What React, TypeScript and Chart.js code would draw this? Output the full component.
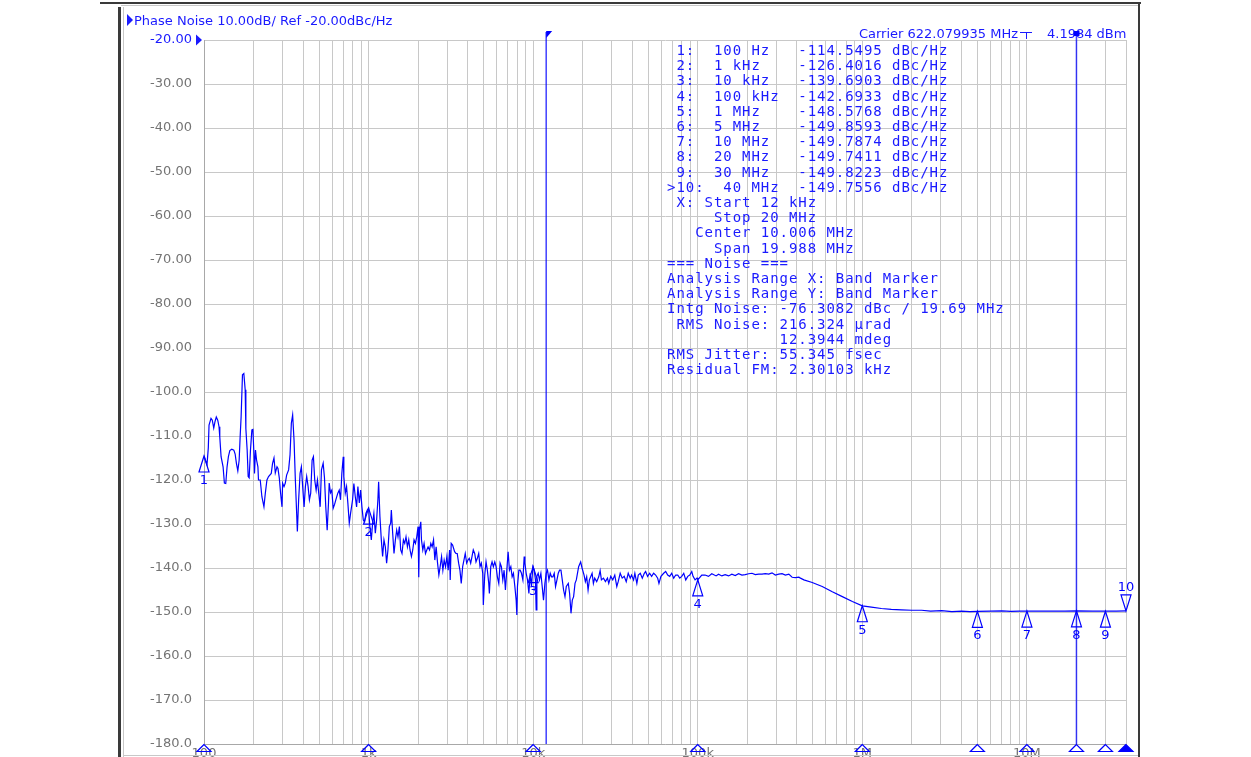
import React, { useEffect, useRef } from "react";
import { Chart, registerables } from "chart.js";
Chart.register(...registerables);

// ---- trace data (offset frequency in Hz, phase noise in dBc/Hz) ----
const freqHz = [
  100, 104.3, 106.2, 107.3, 110.3, 112.3, 114.6, 116.7, 118.8, 121.2, 123.4, 124.7, 127, 130.6, 133, 135.6, 138.1, 140.7, 143.5, 147.5,
  151.8, 154.6, 157.4, 160.5, 163.5, 165.8, 168.1, 171.3, 174.6, 177.9, 179.6, 182.9, 185.5, 188.1, 191.6, 195.4, 198.2, 201, 202.7, 205.5,
  208.5, 212.6, 214.3, 219.6, 224.8, 231.3, 235.5, 241.2, 246.7, 256.3, 261, 266.2, 271.1, 277.6, 281.5, 286.7, 292, 297.8, 300.3, 306.3,
  311.9, 317.7, 326.7, 333.2, 339.4, 345.6, 352.5, 359, 365.6, 369.2, 375.9, 383.5, 390.5, 397.7, 405.6, 413.1, 420.7, 429.1, 437, 445,
  453.8, 462.2, 470.8, 480.1, 488.9, 497.9, 507.9, 517.2, 529.7, 539.5, 549.4, 560.3, 570.7, 576.3, 586.9, 597.7, 609.6, 620.8, 632.3, 650.2,
  663.2, 675.4, 687.9, 701.5, 707.3, 721.5, 734.8, 748.2, 763.2, 777.3, 799.4, 814, 830.3, 845.6, 861.1, 878.3, 894.5, 910.9, 928.7, 945.8,
  963.2, 982.3, 1000,
  1018, 1039, 1058, 1077, 1099, 1119, 1139, 1151, 1172, 1195, 1217, 1240, 1264, 1287, 1311, 1337, 1362, 1375, 1401, 1427,
  1455, 1482, 1509, 1539, 1567, 1596, 1628, 1658, 1688, 1722, 1754, 1786, 1821, 1855, 1889, 1927, 1962, 1998, 2018, 2038,
  2076, 2096, 2135, 2174, 2217, 2258, 2299, 2346, 2389, 2433, 2481, 2527, 2573, 2625, 2673, 2722, 2776, 2827, 2879, 2936,
  2991, 3045, 3106, 3133, 3177, 3240, 3332, 3394, 3456, 3525, 3590, 3656, 3729, 3797, 3867, 3944, 4017, 4091, 4172, 4249,
  4326, 4413, 4494, 4577, 4668, 4754, 4842, 4938, 4979, 5079, 5172, 5268, 5372, 5418, 5525, 5627, 5729, 5845, 5952, 6061,
  6182, 6296, 6412, 6540, 6660, 6783, 6916, 7045, 7175, 7317, 7452, 7588, 7740, 7883, 7959, 8027, 8187, 8338, 8492, 8660,
  8820, 8907, 9071, 9237, 9419, 9592, 9769, 9958,
  10141, 10328, 10430, 10533, 10727, 10924, 11140, 11347, 11555, 11784, 12002, 12221, 12466, 12696, 12928, 13187, 13430, 13677, 13949, 14206,
  14467, 14753, 15027, 15304, 15607, 15895, 16348, 16649, 16977, 17293, 17612, 17961, 18292, 18893, 19431, 19819, 20383, 20758, 21143, 21560,
  21957, 22361, 22806, 23226, 23653, 24325, 25021, 25516, 25987, 26729, 27490, 28273, 28793, 29614, 30451, 31325, 32222, 32858, 33792, 34757,
  35748, 36761, 37813, 38888, 39606, 40736, 41486, 42663, 43515, 44752, 46030, 47342, 48213, 49588, 51000, 52451, 53948, 55484, 57065, 58115,
  59770, 62083, 63851, 65671, 67542, 69464, 71445, 73480, 75575, 77727, 79939, 82219, 84561, 86971, 89448, 91994, 93638, 96324, 99000, 100000,
  105780, 110790, 116210, 121720, 129280, 133740, 140080, 146720, 153910, 161200, 168840, 177120, 185520, 194310, 203830, 213490, 223610, 234560, 245690, 257330,
  269940, 282730, 296140, 310640, 325370, 340790, 357480, 374440, 392190, 411390, 420720, 441320, 495880, 570650, 656710, 755750, 869710, 1000000,
  1134700, 1305800, 1500000, 1729000, 2000000, 2290000, 2600000, 3030000, 3500000, 4017000, 4500000, 5000000, 6000000, 7045000, 8000000, 9000000, 10000000,
  12000000, 14200000, 17000000, 20000000, 25000000, 30000000, 35000000, 40000000,
];

const noiseDbc = [
  -114.5, -116.5, -112.7, -107.5, -106.0, -106.4, -108.2, -106.7, -105.7, -106.4, -107.9, -110.2, -114.7, -117.0, -120.7, -120.8, -117.0, -114.7, -113.3, -113.0,
  -113.2, -114.1, -116.2, -117.9, -115.5, -110.2, -105.6, -96.1, -95.8, -99.5, -108.3, -113.2, -119.2, -119.5, -113.2, -108.6, -108.5, -113.9, -118.5, -113.2,
  -115.4, -117.0, -120.0, -120.0, -123.8, -126.1, -123.2, -120.0, -119.2, -118.5, -116.2, -115.0, -118.4, -117.0, -117.4, -119.5, -123.0, -126.1, -120.7, -121.5,
  -120.7, -118.9, -117.7, -114.3, -107.1, -105.2, -111.0, -120.0, -127.6, -131.7, -124.5, -118.5, -117.0, -121.5, -126.1, -121.5, -119.2, -121.5, -124.5, -123.0,
  -115.5, -114.7, -120.0, -122.3, -120.0, -123.0, -126.1, -117.7, -116.2, -119.5, -126.1, -131.4, -125.2, -120.7, -122.9, -122.3, -126.4, -125.6, -124.5, -123.0,
  -122.3, -124.5, -118.5, -114.7, -119.2, -123.0, -121.5, -125.2, -129.8, -127.6, -124.5, -120.8, -123.8, -126.1, -121.5, -125.2, -122.3, -126.1, -129.1, -129.5,
  -127.6, -126.8, -126.4,
  -130.6, -133.6, -129.8, -127.6, -132.1, -129.1, -124.5, -120.4, -128.3, -133.6, -137.4, -133.6, -135.2, -138.9, -135.9, -130.6, -129.8, -126.8, -132.1, -136.7,
  -133.6, -131.4, -132.9, -130.6, -135.9, -136.7, -133.6, -134.4, -132.9, -135.2, -133.6, -135.9, -137.4, -135.9, -133.6, -134.4, -132.9, -130.6, -142.1, -131.4,
  -129.5, -133.6, -135.9, -134.4, -136.7, -135.9, -135.2, -135.9, -134.4, -135.2, -133.6, -138.2, -135.2, -138.9, -141.6, -139.7, -137.4, -140.5, -138.2, -139.7,
  -137.4, -140.5, -135.9, -142.7, -134.4, -134.8, -136.3, -136.7, -136.7, -138.9, -140.5, -143.5, -139.7, -138.2, -136.7, -138.9, -138.2, -137.8, -138.9, -137.4,
  -135.9, -136.7, -138.6, -137.8, -136.7, -139.7, -138.9, -141.2, -148.4, -141.6, -138.6, -140.5, -143.5, -145.8, -139.7, -138.6, -139.7, -138.6, -139.7, -142.0,
  -143.5, -138.9, -139.7, -142.7, -140.5, -145.0, -140.5, -136.3, -140.5, -139.7, -142.0, -141.2, -144.2, -147.3, -150.7, -144.2, -140.5, -140.5, -141.2, -142.7,
  -137.4, -138.9, -141.2, -142.7, -145.8, -141.2, -144.2, -139.7,
  -140.5, -142.7, -149.5, -141.9, -141.2, -142.7, -141.2, -144.2, -147.3, -143.5, -141.2, -140.5, -142.7, -141.2, -142.0, -142.0, -141.2, -144.2, -142.7, -141.2,
  -140.5, -140.5, -142.7, -145.0, -146.5, -144.2, -143.5, -145.8, -150.3, -147.3, -146.5, -143.5, -142.7, -139.7, -138.6, -140.0, -141.6, -143.1, -142.0, -145.0,
  -142.7, -142.0, -141.2, -143.5, -142.3, -143.1, -142.0, -140.6, -142.7, -142.3, -143.1, -142.3, -143.5, -141.9, -142.7, -141.6, -144.2, -143.1, -141.2, -142.3,
  -141.9, -143.1, -141.2, -142.3, -141.6, -142.7, -141.2, -143.5, -141.6, -141.2, -142.3, -141.2, -140.8, -141.9, -141.2, -141.9, -141.2, -141.6, -142.3, -143.5,
  -141.9, -141.2, -140.8, -141.6, -141.9, -141.2, -142.3, -141.6, -141.6, -142.3, -141.9, -141.2, -142.7, -141.9, -141.6, -140.8, -141.9, -142.7, -142.3, -142.7,
  -141.6, -141.6, -141.9, -141.3, -141.8, -141.4, -141.8, -141.5, -141.8, -141.4, -141.7, -141.3, -141.6, -141.5, -141.3, -141.2, -141.5, -141.4, -141.4, -141.3,
  -141.4, -141.1, -141.6, -141.4, -141.3, -141.6, -141.4, -142.1, -142.2, -142.1, -142.3, -142.7, -143.3, -144.2, -145.4, -146.5, -147.6, -148.6,
  -148.9, -149.2, -149.4, -149.5, -149.6, -149.6, -149.8, -149.7, -149.9, -149.8, -149.9, -149.86, -149.8, -149.75, -149.85, -149.8, -149.79,
  -149.8, -149.78, -149.8, -149.74, -149.8, -149.82, -149.78, -149.76,
];

// ---- markers ----
const markerFreqs = [100, 1e3, 1e4, 1e5, 1e6, 5e6, 1e7, 2e7, 3e7, 4e7];
const markerValues = [-114.5495, -126.4016, -139.6903, -142.6933, -148.5768, -149.8593, -149.7874, -149.7411, -149.8223, -149.7556];
const markerNames = ["1", "2", "3", "4", "5", "6", "7", "8", "9", "10"];
const activeMarker = 9;

// ---- band (integration range) ----
const bandStartHz = 12e3;
const bandStopHz = 20e6;

// ---- axes ----
const xMin = 100;
const xMax = 4e7;
const xDecades = [100, 1e3, 1e4, 1e5, 1e6, 1e7];
const xDecadeLabels = ["100", "1k", "10k", "100k", "1M", "10M"];
const yMin = -180;
const yMax = -20;
const yStep = 10;

// ---- annotation text ----
const headerText = "Phase Noise 10.00dB/ Ref -20.00dBc/Hz";
const carrierText = "Carrier 622.079935 MHz";
const carrierPower = "4.1984 dBm";
const markerTable = [
  " 1:  100 Hz   -114.5495 dBc/Hz",
  " 2:  1 kHz    -126.4016 dBc/Hz",
  " 3:  10 kHz   -139.6903 dBc/Hz",
  " 4:  100 kHz  -142.6933 dBc/Hz",
  " 5:  1 MHz    -148.5768 dBc/Hz",
  " 6:  5 MHz    -149.8593 dBc/Hz",
  " 7:  10 MHz   -149.7874 dBc/Hz",
  " 8:  20 MHz   -149.7411 dBc/Hz",
  " 9:  30 MHz   -149.8223 dBc/Hz",
  ">10:  40 MHz  -149.7556 dBc/Hz",
];
const noiseTable = [
  " X: Start 12 kHz",
  "     Stop 20 MHz",
  "   Center 10.006 MHz",
  "     Span 19.988 MHz",
  "=== Noise ===",
  "Analysis Range X: Band Marker",
  "Analysis Range Y: Band Marker",
  "Intg Noise: -76.3082 dBc / 19.69 MHz",
  " RMS Noise: 216.324 \u00b5rad",
  "            12.3944 mdeg",
  "RMS Jitter: 55.345 fsec",
  "Residual FM: 2.30103 kHz",
];

const BLUE = "#0000ff";
const TEXT_BLUE = "#1a1aff";
const GREY = "#747474";
const SANS = '"DejaVu Sans", sans-serif';

const overlayPlugin = {
  id: "overlay",
  afterDraw(chart: any) {
    const ctx = chart.ctx as CanvasRenderingContext2D;
    const xs = chart.scales.x;
    const ys = chart.scales.y;
    const area = chart.chartArea;
    ctx.save();

    // window frame
    ctx.fillStyle = "#3a3a3a";
    ctx.fillRect(100, 2, 1041, 2);
    ctx.fillRect(118, 7, 3, 750);
    ctx.fillRect(1138, 2, 2, 755);
    ctx.fillStyle = "#c8c8c8";
    ctx.fillRect(121, 5, 1017, 1);
    ctx.fillRect(123, 7, 1, 750);
    ctx.fillRect(123, 755, 1015, 1);

    // header
    ctx.fillStyle = TEXT_BLUE;
    ctx.beginPath();
    ctx.moveTo(127, 14);
    ctx.lineTo(133, 20);
    ctx.lineTo(127, 26);
    ctx.closePath();
    ctx.fill();
    ctx.font = "13px " + SANS;
    ctx.textBaseline = "alphabetic";
    ctx.textAlign = "left";
    ctx.fillText(headerText, 134, 25);

    // reference level arrow
    const yRef = ys.getPixelForValue(yMax);
    ctx.beginPath();
    ctx.moveTo(196, yRef - 5.5);
    ctx.lineTo(202, yRef);
    ctx.lineTo(196, yRef + 5.5);
    ctx.closePath();
    ctx.fill();

    // carrier info
    ctx.textAlign = "right";
    ctx.fillText(carrierText, 1018, 38);
    ctx.textAlign = "left";
    ctx.fillText(carrierPower, 1047, 38);
    ctx.strokeStyle = TEXT_BLUE;
    ctx.lineWidth = 1;
    ctx.beginPath();
    ctx.moveTo(1020, 32.5);
    ctx.lineTo(1032, 32.5);
    ctx.moveTo(1026.5, 32.5);
    ctx.lineTo(1026.5, 39);
    ctx.stroke();

    // band marker lines
    const bx1 = xs.getPixelForValue(bandStartHz);
    const bx2 = xs.getPixelForValue(bandStopHz);
    ctx.strokeStyle = "rgba(0,0,255,0.75)";
    ctx.lineWidth = 1.5;
    ctx.beginPath();
    ctx.moveTo(bx1, 32);
    ctx.lineTo(bx1, area.bottom);
    ctx.moveTo(bx2, 31);
    ctx.lineTo(bx2, area.bottom);
    ctx.stroke();
    ctx.fillStyle = BLUE;
    ctx.beginPath();
    ctx.moveTo(bx1, 31);
    ctx.lineTo(bx1 + 6, 31);
    ctx.lineTo(bx1, 38);
    ctx.closePath();
    ctx.fill();
    ctx.fillRect(bx2 - 3, 31, 6, 5);

    // marker table (monospace)
    ctx.fillStyle = TEXT_BLUE;
    ctx.font = '14px "DejaVu Sans Mono", monospace';
    if ("letterSpacing" in ctx) (ctx as any).letterSpacing = "0.95px";
    ctx.textAlign = "left";
    const lines = markerTable.concat(noiseTable);
    lines.forEach((line, i) => {
      ctx.fillText(line, 667, 55 + 15.2 * i);
    });
    if ("letterSpacing" in ctx) (ctx as any).letterSpacing = "0px";

    // markers on trace
    ctx.font = "13px " + SANS;
    ctx.textAlign = "center";
    ctx.strokeStyle = BLUE;
    ctx.fillStyle = BLUE;
    ctx.lineWidth = 1.2;
    markerFreqs.forEach((f, i) => {
      const px = xs.getPixelForValue(f);
      const py = ys.getPixelForValue(markerValues[i]);
      ctx.beginPath();
      if (i === activeMarker) {
        ctx.moveTo(px, py);
        ctx.lineTo(px - 5, py - 16);
        ctx.lineTo(px + 5, py - 16);
        ctx.closePath();
        ctx.stroke();
        ctx.textBaseline = "bottom";
        ctx.fillText(markerNames[i], px, py - 17);
      } else {
        ctx.moveTo(px, py);
        ctx.lineTo(px - 5, py + 16);
        ctx.lineTo(px + 5, py + 16);
        ctx.closePath();
        ctx.stroke();
        ctx.textBaseline = "top";
        ctx.fillText(markerNames[i], px, py + 18);
      }
      // marker indicator on the x axis
      const by = area.bottom;
      ctx.beginPath();
      ctx.moveTo(px, by + 0.5);
      ctx.lineTo(px - 7, by + 7.5);
      ctx.lineTo(px + 7, by + 7.5);
      ctx.closePath();
      if (i === activeMarker) ctx.fill();
      ctx.stroke();
    });

    ctx.restore();
  },
};

export default function App() {
  const canvasRef = useRef<HTMLCanvasElement | null>(null);

  useEffect(() => {
    const canvas = canvasRef.current;
    if (!canvas) return;
    const gridValues: number[] = [];
    xDecades.forEach((d) => {
      for (let k = 1; k <= 9; k++) {
        const v = d * k;
        if (v <= xMax) gridValues.push(v);
      }
    });
    const labelFor = (v: number) => {
      const idx = xDecades.findIndex((d) => Math.abs(d - v) < 1e-6 * d);
      return idx >= 0 ? xDecadeLabels[idx] : "";
    };

    const chart = new Chart(canvas, {
      type: "line",
      data: {
        datasets: [
          {
            data: freqHz.map((f, i) => ({ x: f, y: noiseDbc[i] })),
            borderColor: BLUE,
            borderWidth: 1.2,
            pointRadius: 0,
            tension: 0,
            fill: false,
          },
        ],
      },
      options: {
        responsive: false,
        animation: false,
        devicePixelRatio: 1,
        layout: { padding: { left: 0, top: 40, right: 125, bottom: 0 } },
        plugins: { legend: { display: false }, tooltip: { enabled: false }, title: { display: false } },
        scales: {
          x: {
            type: "logarithmic",
            min: xMin,
            max: xMax,
            afterBuildTicks: (scale: any) => {
              scale.ticks = gridValues.map((v) => ({ value: v }));
            },
            afterFit: (scale: any) => {
              scale.height = 13;
              scale.paddingLeft = 0;
              scale.paddingRight = 0;
            },
            grid: { color: "#c8c8c8", lineWidth: 1, drawTicks: false },
            border: { display: true, color: "#a8a8a8" },
            ticks: {
              autoSkip: false,
              maxRotation: 0,
              minRotation: 0,
              padding: 2,
              color: GREY,
              font: { family: SANS, size: 13 },
              callback: (v: any) => labelFor(Number(v)),
            },
          },
          y: {
            type: "linear",
            min: yMin,
            max: yMax,
            afterFit: (scale: any) => {
              scale.width = 204;
              scale.paddingTop = 0;
              scale.paddingBottom = 0;
            },
            grid: { color: "#c8c8c8", lineWidth: 1, drawTicks: false },
            border: { display: true, color: "#a8a8a8" },
            ticks: {
              stepSize: yStep,
              padding: 12,
              color: (c: any) => (c.tick && c.tick.value === yMax ? TEXT_BLUE : GREY),
              font: { family: SANS, size: 13 },
              callback: (v: any) => (Number(v) > -100 ? Number(v).toFixed(2) : Number(v).toFixed(1)),
            },
          },
        },
      } as any,
      plugins: [overlayPlugin],
    });
    return () => chart.destroy();
  }, []);

  return (
    <div style={{ position: "fixed", left: 0, top: 0, width: 1251, height: 757, background: "#ffffff" }}>
      <canvas ref={canvasRef} width={1251} height={757} style={{ display: "block" }} />
    </div>
  );
}
